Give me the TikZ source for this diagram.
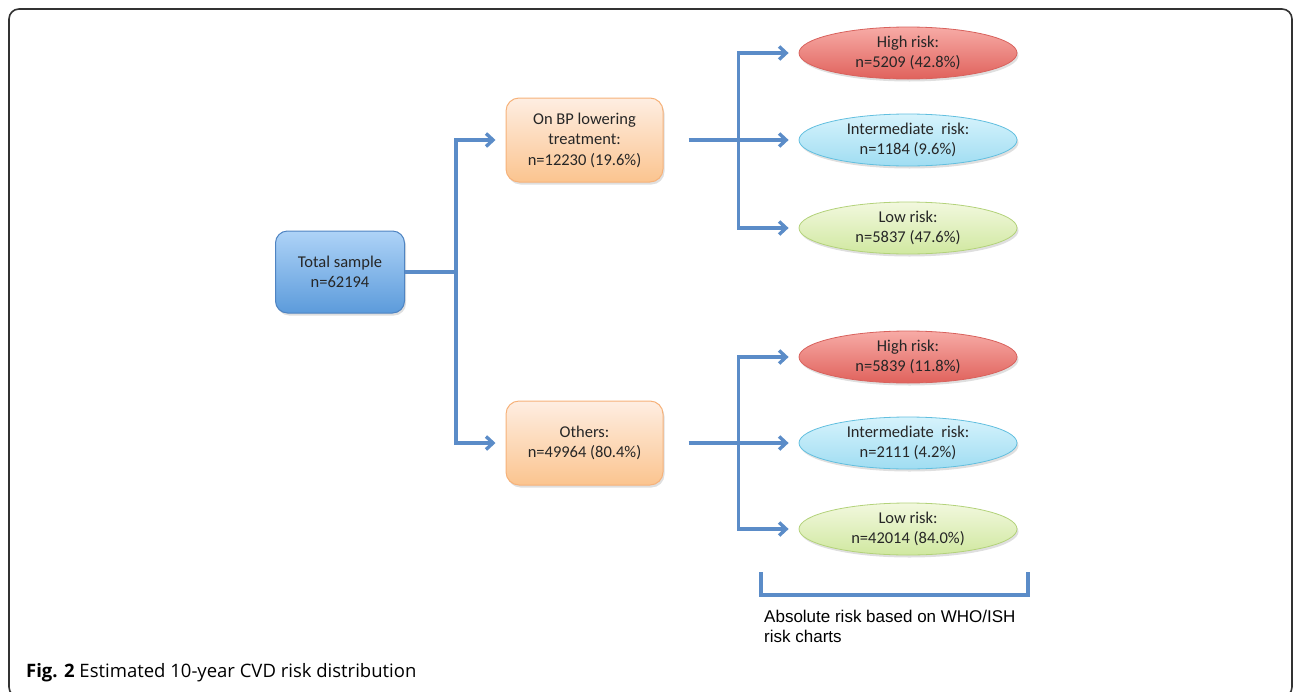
\documentclass[tikz,border=0pt]{standalone}
\usepackage{fontspec}
\setmainfont{Carlito}
\newfontfamily\capfont{Open Sans}
\newfontfamily\notefont{Liberation Sans}
\usetikzlibrary{positioning, shapes.geometric, shadows, arrows.meta}

\definecolor{flowblue}{HTML}{5B8CC8}
\definecolor{frame}{HTML}{333333}
\definecolor{sampletop}{HTML}{AED3F7}
\definecolor{samplebot}{HTML}{5C9BDB}
\definecolor{sampleline}{HTML}{4F84C2}
\definecolor{grouptop}{HTML}{FEEEE2}
\definecolor{groupbot}{HTML}{FBC48F}
\definecolor{groupline}{HTML}{F6B27A}
\definecolor{hightop}{HTML}{F7ABA6}
\definecolor{highbot}{HTML}{E0625C}
\definecolor{highline}{HTML}{D8625D}
\definecolor{midtop}{HTML}{D6F3FC}
\definecolor{midbot}{HTML}{A0DDF2}
\definecolor{midline}{HTML}{62BFDF}
\definecolor{lowtop}{HTML}{F2F8DE}
\definecolor{lowbot}{HTML}{D0E8A0}
\definecolor{lowline}{HTML}{B3D27A}

\begin{document}
\begin{tikzpicture}[x=1pt,y=-1pt,on grid,
    txt/.style={align=center, text=black!85, font=\fontsize{16.5}{20.5}\selectfont},
    shade/.style={drop shadow={shadow xshift=1.5pt,shadow yshift=-2.5pt,opacity=0.25}},
    groupbox/.style={txt, shade, rectangle, rounded corners=13pt, line width=1pt,
        minimum width=157pt, minimum height=84pt,
        draw=groupline, top color=grouptop, bottom color=groupbot},
    samplebox/.style={groupbox, draw=sampleline, top color=sampletop, bottom color=samplebot,
        minimum width=129pt, minimum height=82pt, rounded corners=12pt},
    riskbox/.style={txt, shade, ellipse, inner sep=0pt, line width=0.8pt,
        minimum width=218pt, minimum height=52pt},
    highrisk/.style={riskbox, draw=highline, top color=hightop, bottom color=highbot},
    midrisk/.style={riskbox, draw=midline, top color=midtop, bottom color=midbot},
    lowrisk/.style={riskbox, draw=lowline, top color=lowtop, bottom color=lowbot},
    link/.style={draw=flowblue, line width=3.4pt},
    flow/.style={link, -{Straight Barb[length=7pt,width=13pt]}, shorten >=10pt}]

\useasboundingbox (0,0) rectangle (1295,691);
\draw[frame, line width=1.6pt, rounded corners=10pt] (9,9) rectangle (1292,697);

\node[samplebox] (total) at (340,272) {Total sample\\n=62194};
\node[groupbox] [above right=132pt and 244.5pt of total] (bp)
    {On BP lowering\\treatment:\\n=12230 (19.6\%)};
\node[groupbox] [below right=171pt and 244.5pt of total] (others)
    {Others:\\n=49964 (80.4\%)};

\node[midrisk] [right=323.5pt of bp] (mid1) {Intermediate\ \ risk:\\n=1184 (9.6\%)};
\node[highrisk] [above=87pt of mid1] (high1) {High risk:\\n=5209 (42.8\%)};
\node[lowrisk] [below=88pt of mid1] (low1) {Low risk:\\n=5837 (47.6\%)};

\node[midrisk] [right=323.5pt of others] (mid2) {Intermediate\ \ risk:\\n=2111 (4.2\%)};
\node[highrisk] [above=86pt of mid2] (high2) {High risk:\\n=5839 (11.8\%)};
\node[lowrisk] [below=86pt of mid2] (low2) {Low risk:\\n=42014 (84.0\%)};

\coordinate[right=51pt of total.east] (fork0);
\coordinate[right=75pt of bp.east] (fork1);
\coordinate[right=75pt of others.east] (fork2);

\draw[link] (total) -- (fork0);
\draw[flow] (fork0) |- (bp);
\draw[flow] (fork0) |- (others);

\draw[flow, shorten <=25pt] (bp) -- (mid1);
\draw[flow] (fork1) |- (high1);
\draw[flow] (fork1) |- (low1);

\draw[flow, shorten <=25pt] (others) -- (mid2);
\draw[flow] (fork2) |- (high2);
\draw[flow] (fork2) |- (low2);

% bracket under the risk groups
\coordinate (brl) at (761,572);
\coordinate (brr) at (1028,572);
\draw[link] (brl) -- ++(0,23) -| (brr);
\node[anchor=north west, align=left, inner sep=0pt, font=\notefont\fontsize{17}{20}\selectfont]
    (note) at (764,610) {Absolute risk based on WHO/ISH\\risk charts};

\node[anchor=west, inner sep=0pt, font=\capfont\fontsize{18.5}{22}\selectfont]
    (caption) at (26,673) {\textbf{Fig. 2} Estimated 10-year CVD risk distribution};
\end{tikzpicture}
\end{document}
